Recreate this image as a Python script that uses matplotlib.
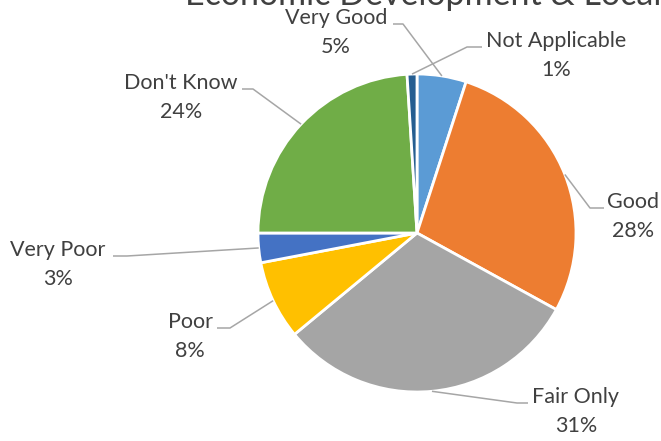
import numpy as np
import matplotlib.pyplot as plt

# data
categories = ["Very Good", "Good", "Fair Only", "Poor", "Very Poor", "Don't Know", "Not Applicable"]
percents = [5, 28, 31, 8, 3, 24, 1]
colors = ["#5B9BD5", "#ED7D31", "#A5A5A5", "#FFC000", "#4472C4", "#70AD47", "#255E91"]
title = "Economic Development & Local"

# label layout in image pixels: text centre x, name line y, line end x, elbow x
label_x = [336, 633, 576, 190, 58, 181, 556]
label_y = [18, 202, 397, 322, 250, 83, 41]
line_end = [393, 604, 528, 217, 113, 242, 482]
line_elbow = [403, 590, 517, 230, 127, 253, 467]

W, H = 661, 441
cx, cy, R = 417, H - 233, 159
txt = "#404040"
font = "Lato"

fig = plt.figure(figsize=(W / 100, H / 100), dpi=100)
ax = fig.add_axes([0, 0, 1, 1])

wedges, _ = ax.pie(percents, colors=colors, startangle=90, counterclock=False,
                   center=(cx, cy), radius=R,
                   wedgeprops=dict(edgecolor="white", linewidth=2))

for w, name, p, lx, ly, le, lb in zip(wedges, categories, percents, label_x,
                                      label_y, line_end, line_elbow):
    mid = np.deg2rad((w.theta1 + w.theta2) / 2)
    ax_, ay_ = cx + R * np.cos(mid), cy + R * np.sin(mid)
    hy = H - (ly + 6)
    ax.plot([ax_, lb, le], [ay_, hy, hy], color="#A6A6A6", lw=1.1,
            solid_capstyle="butt", zorder=1)
    ax.text(lx, H - ly, name, ha="center", va="center", fontsize=15.5,
            color=txt, family=font)
    ax.text(lx, H - ly - 29, f"{p}%", ha="center", va="center", fontsize=15.5,
            color=txt, family=font)

ax.text(185, H - 5, title, ha="left", va="baseline", fontsize=24.5,
        color=txt, family=font)

ax.set_xlim(0, W)
ax.set_ylim(0, H)
ax.set_aspect("equal")
ax.set_axis_off()

fig.savefig("out.png", dpi=100)
